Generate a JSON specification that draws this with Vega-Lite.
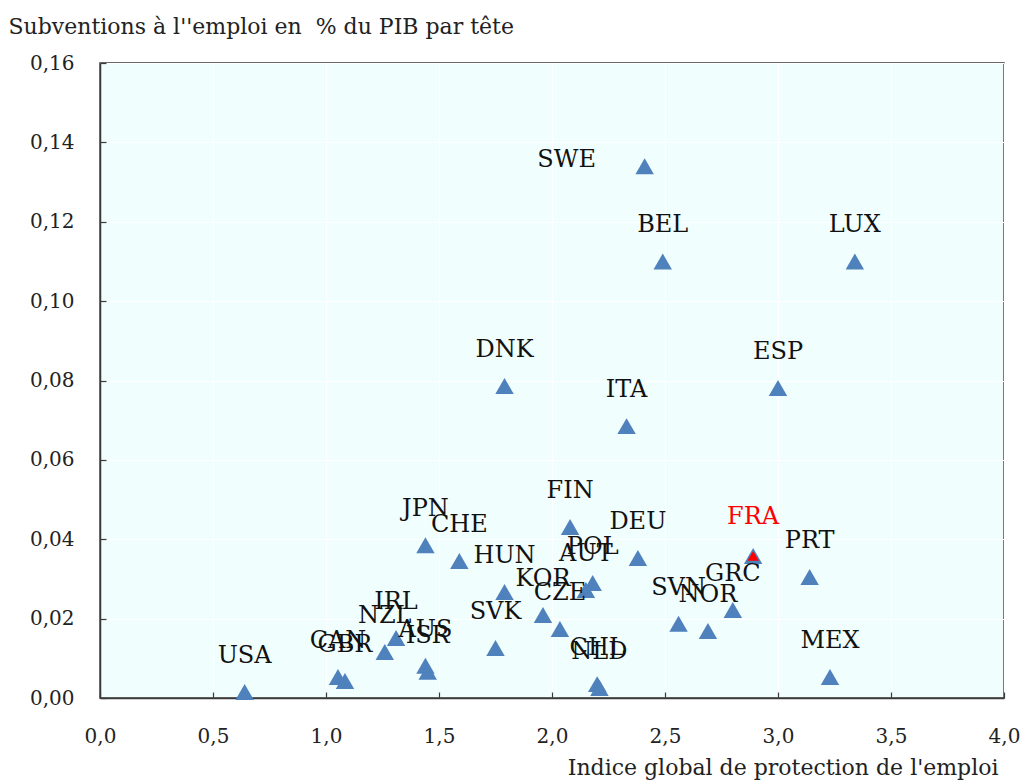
{
  "$schema": "https://vega.github.io/schema/vega-lite/v6.json",
  "width": 904,
  "height": 635,
  "autosize": {"type": "none"},
  "padding": {"left": 100, "top": 63, "right": 19, "bottom": 83},
  "background": "white",
  "config": {
    "font": "DejaVu Serif",
    "view": {"fill": "#F0FEFE", "stroke": "#3a3a3a", "strokeWidth": 1.5},
    "axis": {
      "grid": true,
      "gridColor": "#FFFFFF",
      "gridWidth": 1.2,
      "gridOpacity": 1,
      "domainColor": "#3a3a3a",
      "domainWidth": 1.5,
      "tickColor": "#3a3a3a",
      "tickSize": -6,
      "tickWidth": 1.2,
      "labelFont": "DejaVu Serif",
      "labelFontSize": 20,
      "labelColor": "#222222",
      "labelFlush": false,
      "titleFont": "DejaVu Serif",
      "titleFontSize": 22,
      "titleFontWeight": "normal",
      "titleColor": "#222222"
    }
  },
  "data": {
    "values": [
      {"country": "USA", "epl": 0.64, "sub": 0.0015},
      {"country": "CAN", "epl": 1.053, "sub": 0.0053},
      {"country": "GBR", "epl": 1.084, "sub": 0.0043},
      {"country": "NZL", "epl": 1.26, "sub": 0.0116},
      {"country": "IRL", "epl": 1.31, "sub": 0.0151},
      {"country": "AUS", "epl": 1.44, "sub": 0.0081},
      {"country": "ISR", "epl": 1.45, "sub": 0.0066},
      {"country": "JPN", "epl": 1.44, "sub": 0.0385},
      {"country": "CHE", "epl": 1.59, "sub": 0.0345},
      {"country": "HUN", "epl": 1.79, "sub": 0.0267},
      {"country": "KOR", "epl": 1.96, "sub": 0.0209},
      {"country": "CZE", "epl": 2.035, "sub": 0.0174},
      {"country": "SVK", "epl": 1.75, "sub": 0.0126},
      {"country": "CHL", "epl": 2.2, "sub": 0.0035},
      {"country": "NLD", "epl": 2.21, "sub": 0.0025},
      {"country": "AUT", "epl": 2.15, "sub": 0.0272},
      {"country": "POL", "epl": 2.18, "sub": 0.029},
      {"country": "FIN", "epl": 2.08, "sub": 0.0431},
      {"country": "DEU", "epl": 2.38, "sub": 0.0353},
      {"country": "FRA", "epl": 2.89, "sub": 0.0358},
      {"country": "PRT", "epl": 3.14, "sub": 0.0305},
      {"country": "GRC", "epl": 2.8, "sub": 0.0222},
      {"country": "SVN", "epl": 2.56, "sub": 0.0187},
      {"country": "NOR", "epl": 2.69, "sub": 0.0169},
      {"country": "MEX", "epl": 3.23, "sub": 0.0053},
      {"country": "ITA", "epl": 2.33, "sub": 0.0685},
      {"country": "DNK", "epl": 1.79, "sub": 0.0786},
      {"country": "ESP", "epl": 3.0, "sub": 0.0781},
      {"country": "BEL", "epl": 2.49, "sub": 0.110},
      {"country": "LUX", "epl": 3.34, "sub": 0.110},
      {"country": "SWE", "epl": 2.41, "sub": 0.134}
    ]
  },
  "encoding": {
    "x": {
      "field": "epl",
      "type": "quantitative",
      "scale": {"domain": [0, 4], "nice": false, "zero": false},
      "axis": {
        "title": "Indice global de protection de l'emploi",
        "values": [0, 0.5, 1, 1.5, 2, 2.5, 3, 3.5, 4],
        "labelExpr": "replace(format(datum.value, '.1f'), '.', ',')",
        "labelPadding": 34,
        "titleAnchor": "end",
        "titleAlign": "right",
        "titleX": 898,
        "titleY": 76,
        "titleBaseline": "alphabetic"
      }
    },
    "y": {
      "field": "sub",
      "type": "quantitative",
      "scale": {"domain": [0, 0.16], "nice": false, "zero": false},
      "axis": {
        "title": "Subventions à l''emploi en \u00a0% du PIB par tête",
        "values": [0, 0.02, 0.04, 0.06, 0.08, 0.1, 0.12, 0.14, 0.16],
        "labelExpr": "replace(format(datum.value, '.2f'), '.', ',')",
        "labelPadding": 32,
        "titleAngle": 0,
        "titleAlign": "left",
        "titleAnchor": "start",
        "titleX": -92,
        "titleY": -30,
        "titleBaseline": "alphabetic"
      }
    }
  },
  "layer": [
    {
      "mark": {"type": "point", "shape": "triangle-up", "filled": true, "size": 340, "color": "#4F81BD", "opacity": 1}
    },
    {
      "transform": [{"filter": "datum.country === 'FRA'"}],
      "mark": {"type": "point", "shape": "triangle-up", "filled": true, "size": 130, "color": "#FF0000", "opacity": 1}
    },
    {
      "transform": [{"filter": "datum.country !== 'SWE' && datum.country !== 'FRA'"}],
      "mark": {"type": "text", "dy": -36, "fontSize": 24, "color": "#111111", "font": "DejaVu Serif"},
      "encoding": {"text": {"field": "country", "type": "nominal"}}
    },
    {
      "transform": [{"filter": "datum.country === 'SWE'"}],
      "mark": {"type": "text", "dx": -78, "dy": -6, "fontSize": 24, "color": "#111111", "font": "DejaVu Serif"},
      "encoding": {"text": {"field": "country", "type": "nominal"}}
    },
    {
      "transform": [{"filter": "datum.country === 'FRA'"}],
      "mark": {"type": "text", "dy": -39, "fontSize": 24, "color": "#FF0000", "font": "DejaVu Serif"},
      "encoding": {"text": {"field": "country", "type": "nominal"}}
    }
  ]
}
